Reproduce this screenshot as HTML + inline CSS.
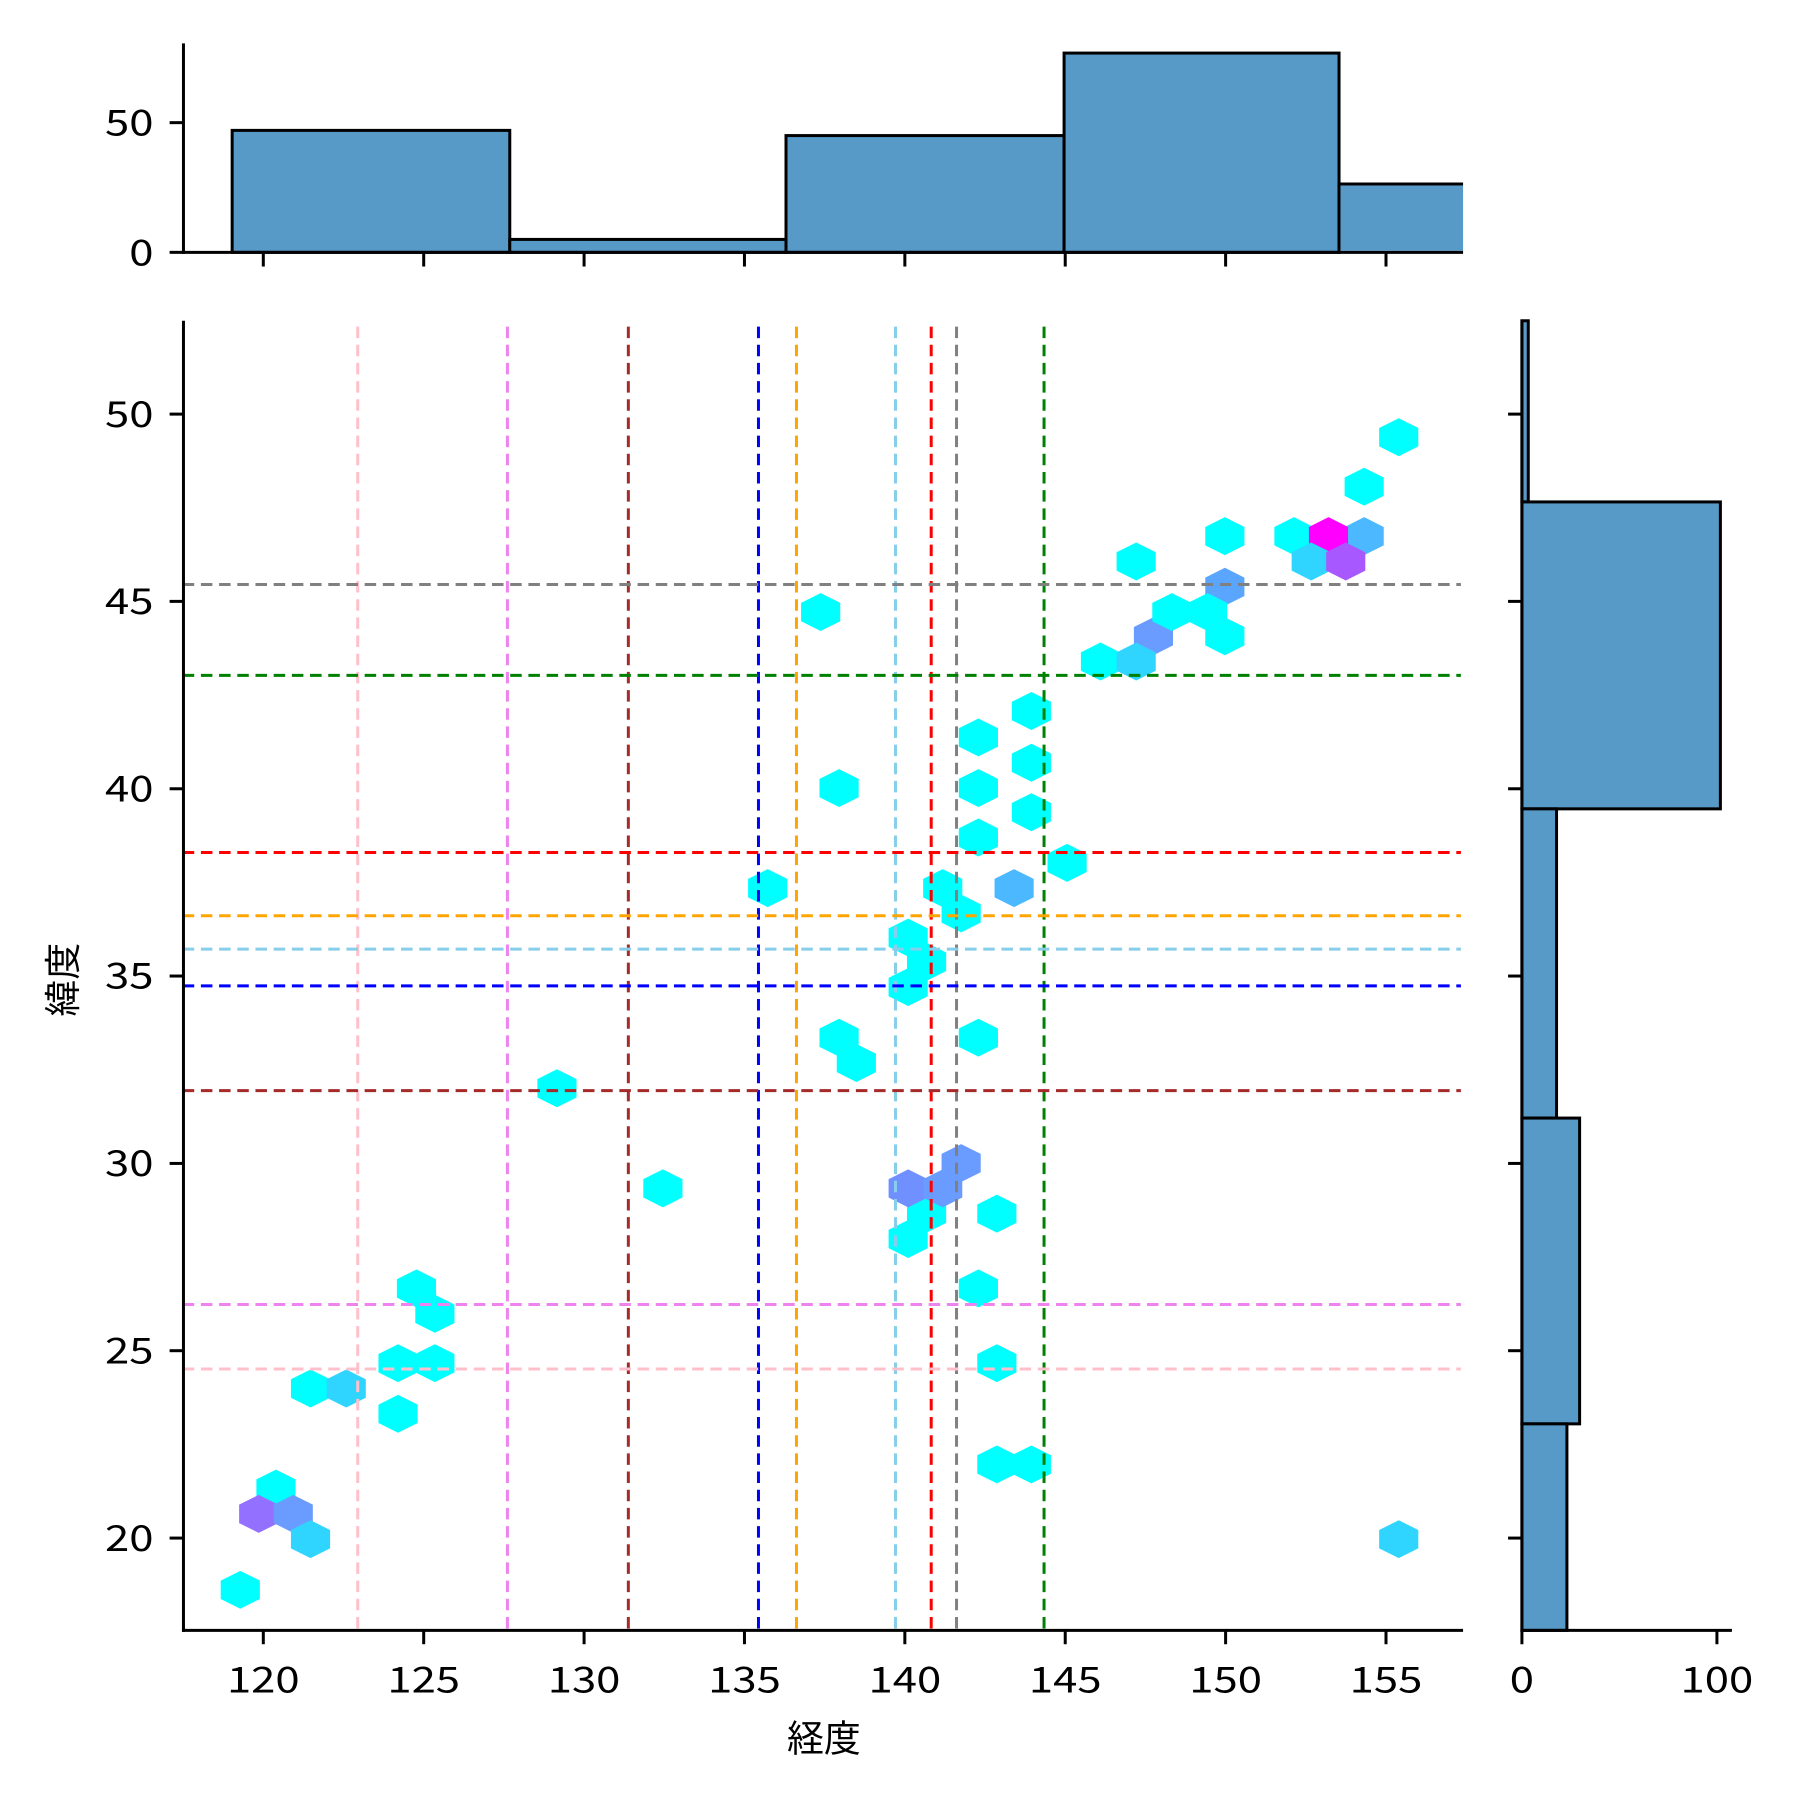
<!DOCTYPE html>
<html><head><meta charset="utf-8"><style>html,body{margin:0;padding:0;background:#fff}svg{display:block}</style></head>
<body>
<svg xmlns="http://www.w3.org/2000/svg" width="1800" height="1800" viewBox="0 0 1560 1560">
<rect width="1560" height="1560" fill="#fff"/>
<defs><clipPath id="cm"><rect x="159" y="278" width="1109" height="1135"/></clipPath></defs>

<!-- top histogram -->
<g stroke="#000" stroke-width="2.6" fill="#5799c7">
<rect x="201.2" y="113" width="240.6" height="105.7"/>
<rect x="441.8" y="207.5" width="239.4" height="11.2"/>
<rect x="681.2" y="117.5" width="241" height="101.2"/>
<rect x="922.2" y="46" width="238.3" height="172.7"/>
<path d="M1160.5 218.7 V159.5 H1268" fill="none"/>
<rect x="1161.8" y="160.8" width="106.2" height="56.6" stroke="none"/>
</g>
<g stroke="#000" stroke-width="2.6">
<line x1="159" y1="37.6" x2="159" y2="220"/>
<line x1="157.7" y1="218.7" x2="1268" y2="218.7"/>
<line x1="147" y1="218.7" x2="159" y2="218.7"/><line x1="147" y1="106.3" x2="159" y2="106.3"/>
<g>
<line x1="228.2" y1="218.7" x2="228.2" y2="231"/><line x1="367.2" y1="218.7" x2="367.2" y2="231"/>
<line x1="506.2" y1="218.7" x2="506.2" y2="231"/><line x1="645.2" y1="218.7" x2="645.2" y2="231"/>
<line x1="784.2" y1="218.7" x2="784.2" y2="231"/><line x1="923.2" y1="218.7" x2="923.2" y2="231"/>
<line x1="1062.2" y1="218.7" x2="1062.2" y2="231"/><line x1="1201.2" y1="218.7" x2="1201.2" y2="231"/>
</g></g>
<g font-family="'Noto Sans CJK JP','Liberation Sans',sans-serif" font-size="31" fill="#000" text-anchor="end">
<text x="133" y="117.5" textLength="42" lengthAdjust="spacingAndGlyphs">50</text>
<text x="133" y="230" textLength="21" lengthAdjust="spacingAndGlyphs">0</text>
</g>

<!-- right histogram -->
<g stroke="#000" stroke-width="2.6" fill="#5799c7">
<rect x="1319" y="278" width="5.5" height="157"/>
<rect x="1319" y="435" width="172" height="266"/>
<rect x="1319" y="701" width="30" height="268"/>
<rect x="1319" y="969" width="50" height="265"/>
<rect x="1319" y="1234" width="39" height="179"/>
</g>
<g stroke="#000" stroke-width="2.6">
<line x1="1319" y1="277" x2="1319" y2="1414.3"/>
<line x1="1317.7" y1="1413" x2="1501" y2="1413"/>
<line x1="1319" y1="1413" x2="1319" y2="1425"/><line x1="1488" y1="1413" x2="1488" y2="1425"/>
<line x1="1307" y1="1333" x2="1319" y2="1333"/><line x1="1307" y1="1170.6" x2="1319" y2="1170.6"/>
<line x1="1307" y1="1008.3" x2="1319" y2="1008.3"/><line x1="1307" y1="845.9" x2="1319" y2="845.9"/>
<line x1="1307" y1="683.6" x2="1319" y2="683.6"/><line x1="1307" y1="521.2" x2="1319" y2="521.2"/>
<line x1="1307" y1="358.9" x2="1319" y2="358.9"/>
</g>

<!-- main hexbin -->
<g clip-path="url(#cm)">
<g transform="matrix(0.998 0 0 0.9969 -1.34 -1.88)">
<g>
<polygon points="0,-16.5,17,-8,17,8,0,16.5,-17,8,-17,-8" transform="translate(1216,382)" fill="#00ffff"/>
<polygon points="0,-16.5,17,-8,17,8,0,16.5,-17,8,-17,-8" transform="translate(1186,425)" fill="#00ffff"/>
<polygon points="0,-16.5,17,-8,17,8,0,16.5,-17,8,-17,-8" transform="translate(1065,468)" fill="#00ffff"/>
<polygon points="0,-16.5,17,-8,17,8,0,16.5,-17,8,-17,-8" transform="translate(1125,468)" fill="#00ffff"/>
<polygon points="0,-16.5,17,-8,17,8,0,16.5,-17,8,-17,-8" transform="translate(1186,468)" fill="#4cb8ff"/>
<polygon points="0,-16.5,17,-8,17,8,0,16.5,-17,8,-17,-8" transform="translate(1155,468)" fill="#ff00ff"/>
<polygon points="0,-16.5,17,-8,17,8,0,16.5,-17,8,-17,-8" transform="translate(988,490)" fill="#00ffff"/>
<polygon points="0,-16.5,17,-8,17,8,0,16.5,-17,8,-17,-8" transform="translate(1140,490)" fill="#2fd5ff"/>
<polygon points="0,-16.5,17,-8,17,8,0,16.5,-17,8,-17,-8" transform="translate(1170,490)" fill="#a858ff"/>
<polygon points="0,-16.5,17,-8,17,8,0,16.5,-17,8,-17,-8" transform="translate(1065,512)" fill="#5aa6ff"/>
<polygon points="0,-16.5,17,-8,17,8,0,16.5,-17,8,-17,-8" transform="translate(714,534)" fill="#00ffff"/>
<polygon points="0,-16.5,17,-8,17,8,0,16.5,-17,8,-17,-8" transform="translate(1003,555)" fill="#6a9bff"/>
<polygon points="0,-16.5,17,-8,17,8,0,16.5,-17,8,-17,-8" transform="translate(1065,555)" fill="#00ffff"/>
<polygon points="0,-16.5,17,-8,17,8,0,16.5,-17,8,-17,-8" transform="translate(1019,534)" fill="#00ffff"/>
<polygon points="0,-16.5,17,-8,17,8,0,16.5,-17,8,-17,-8" transform="translate(1050,534)" fill="#00ffff"/>
<polygon points="0,-16.5,17,-8,17,8,0,16.5,-17,8,-17,-8" transform="translate(957,577)" fill="#00ffff"/>
<polygon points="0,-16.5,17,-8,17,8,0,16.5,-17,8,-17,-8" transform="translate(988,577)" fill="#2fd5ff"/>
<polygon points="0,-16.5,17,-8,17,8,0,16.5,-17,8,-17,-8" transform="translate(897,620)" fill="#00ffff"/>
<polygon points="0,-16.5,17,-8,17,8,0,16.5,-17,8,-17,-8" transform="translate(851,643)" fill="#00ffff"/>
<polygon points="0,-16.5,17,-8,17,8,0,16.5,-17,8,-17,-8" transform="translate(897,665)" fill="#00ffff"/>
<polygon points="0,-16.5,17,-8,17,8,0,16.5,-17,8,-17,-8" transform="translate(730,687)" fill="#00ffff"/>
<polygon points="0,-16.5,17,-8,17,8,0,16.5,-17,8,-17,-8" transform="translate(851,687)" fill="#00ffff"/>
<polygon points="0,-16.5,17,-8,17,8,0,16.5,-17,8,-17,-8" transform="translate(897,708)" fill="#00ffff"/>
<polygon points="0,-16.5,17,-8,17,8,0,16.5,-17,8,-17,-8" transform="translate(851,730)" fill="#00ffff"/>
<polygon points="0,-16.5,17,-8,17,8,0,16.5,-17,8,-17,-8" transform="translate(928,752)" fill="#00ffff"/>
<polygon points="0,-16.5,17,-8,17,8,0,16.5,-17,8,-17,-8" transform="translate(668,774)" fill="#00ffff"/>
<polygon points="0,-16.5,17,-8,17,8,0,16.5,-17,8,-17,-8" transform="translate(820,774)" fill="#00ffff"/>
<polygon points="0,-16.5,17,-8,17,8,0,16.5,-17,8,-17,-8" transform="translate(882,774)" fill="#4cb8ff"/>
<polygon points="0,-16.5,17,-8,17,8,0,16.5,-17,8,-17,-8" transform="translate(836,796)" fill="#00ffff"/>
<polygon points="0,-16.5,17,-8,17,8,0,16.5,-17,8,-17,-8" transform="translate(790,817)" fill="#00ffff"/>
<polygon points="0,-16.5,17,-8,17,8,0,16.5,-17,8,-17,-8" transform="translate(806,838)" fill="#00ffff"/>
<polygon points="0,-16.5,17,-8,17,8,0,16.5,-17,8,-17,-8" transform="translate(790,860)" fill="#00ffff"/>
<polygon points="0,-16.5,17,-8,17,8,0,16.5,-17,8,-17,-8" transform="translate(730,904)" fill="#00ffff"/>
<polygon points="0,-16.5,17,-8,17,8,0,16.5,-17,8,-17,-8" transform="translate(851,904)" fill="#00ffff"/>
<polygon points="0,-16.5,17,-8,17,8,0,16.5,-17,8,-17,-8" transform="translate(745,926)" fill="#00ffff"/>
<polygon points="0,-16.5,17,-8,17,8,0,16.5,-17,8,-17,-8" transform="translate(485,948)" fill="#00ffff"/>
<polygon points="0,-16.5,17,-8,17,8,0,16.5,-17,8,-17,-8" transform="translate(836,1013)" fill="#6a9bff"/>
<polygon points="0,-16.5,17,-8,17,8,0,16.5,-17,8,-17,-8" transform="translate(577,1035)" fill="#00ffff"/>
<polygon points="0,-16.5,17,-8,17,8,0,16.5,-17,8,-17,-8" transform="translate(806,1057)" fill="#00ffff"/>
<polygon points="0,-16.5,17,-8,17,8,0,16.5,-17,8,-17,-8" transform="translate(867,1057)" fill="#00ffff"/>
<polygon points="0,-16.5,17,-8,17,8,0,16.5,-17,8,-17,-8" transform="translate(790,1035)" fill="#7090ff"/>
<polygon points="0,-16.5,17,-8,17,8,0,16.5,-17,8,-17,-8" transform="translate(820,1035)" fill="#6a9bff"/>
<polygon points="0,-16.5,17,-8,17,8,0,16.5,-17,8,-17,-8" transform="translate(790,1079)" fill="#00ffff"/>
<polygon points="0,-16.5,17,-8,17,8,0,16.5,-17,8,-17,-8" transform="translate(363,1122)" fill="#00ffff"/>
<polygon points="0,-16.5,17,-8,17,8,0,16.5,-17,8,-17,-8" transform="translate(851,1122)" fill="#00ffff"/>
<polygon points="0,-16.5,17,-8,17,8,0,16.5,-17,8,-17,-8" transform="translate(379,1144)" fill="#00ffff"/>
<polygon points="0,-16.5,17,-8,17,8,0,16.5,-17,8,-17,-8" transform="translate(347,1187)" fill="#00ffff"/>
<polygon points="0,-16.5,17,-8,17,8,0,16.5,-17,8,-17,-8" transform="translate(379,1187)" fill="#00ffff"/>
<polygon points="0,-16.5,17,-8,17,8,0,16.5,-17,8,-17,-8" transform="translate(867,1187)" fill="#00ffff"/>
<polygon points="0,-16.5,17,-8,17,8,0,16.5,-17,8,-17,-8" transform="translate(271,1209)" fill="#00ffff"/>
<polygon points="0,-16.5,17,-8,17,8,0,16.5,-17,8,-17,-8" transform="translate(302,1209)" fill="#2fd5ff"/>
<polygon points="0,-16.5,17,-8,17,8,0,16.5,-17,8,-17,-8" transform="translate(347,1231)" fill="#00ffff"/>
<polygon points="0,-16.5,17,-8,17,8,0,16.5,-17,8,-17,-8" transform="translate(867,1275)" fill="#00ffff"/>
<polygon points="0,-16.5,17,-8,17,8,0,16.5,-17,8,-17,-8" transform="translate(897,1275)" fill="#00ffff"/>
<polygon points="0,-16.5,17,-8,17,8,0,16.5,-17,8,-17,-8" transform="translate(241,1296)" fill="#00ffff"/>
<polygon points="0,-16.5,17,-8,17,8,0,16.5,-17,8,-17,-8" transform="translate(226,1318)" fill="#9370ff"/>
<polygon points="0,-16.5,17,-8,17,8,0,16.5,-17,8,-17,-8" transform="translate(256,1318)" fill="#6a9bff"/>
<polygon points="0,-16.5,17,-8,17,8,0,16.5,-17,8,-17,-8" transform="translate(271,1340)" fill="#2fd5ff"/>
<polygon points="0,-16.5,17,-8,17,8,0,16.5,-17,8,-17,-8" transform="translate(1216,1340)" fill="#2fd5ff"/>
<polygon points="0,-16.5,17,-8,17,8,0,16.5,-17,8,-17,-8" transform="translate(210,1384)" fill="#00ffff"/>
</g>
<g stroke-width="2.6" stroke-dasharray="10,5.8" fill="none">
<line x1="312" y1="270" x2="312" y2="1430" stroke="#ffc0cb"/>
<line x1="442" y1="270" x2="442" y2="1430" stroke="#ee82ee"/>
<line x1="547" y1="270" x2="547" y2="1430" stroke="#a52a2a"/>
<line x1="660" y1="270" x2="660" y2="1430" stroke="#0000ff"/>
<line x1="693" y1="270" x2="693" y2="1430" stroke="#ffa500"/>
<line x1="779" y1="270" x2="779" y2="1430" stroke="#87ceeb"/>
<line x1="810" y1="270" x2="810" y2="1430" stroke="#ff0000"/>
<line x1="832" y1="270" x2="832" y2="1430" stroke="#808080"/>
<line x1="908" y1="270" x2="908" y2="1430" stroke="#008000"/>
<line x1="160" y1="510" x2="1270" y2="510" stroke="#808080"/>
<line x1="160" y1="589" x2="1270" y2="589" stroke="#008000"/>
<line x1="160" y1="743" x2="1270" y2="743" stroke="#ff0000"/>
<line x1="160" y1="798" x2="1270" y2="798" stroke="#ffa500"/>
<line x1="160" y1="827" x2="1270" y2="827" stroke="#87ceeb"/>
<line x1="160" y1="859" x2="1270" y2="859" stroke="#0000ff"/>
<line x1="160" y1="950" x2="1270" y2="950" stroke="#a52a2a"/>
<line x1="160" y1="1136" x2="1270" y2="1136" stroke="#ee82ee"/>
<line x1="160" y1="1192" x2="1270" y2="1192" stroke="#ffc0cb"/>
</g>
</g>
</g>

<!-- main axes -->
<g stroke="#000" stroke-width="2.6">
<line x1="159" y1="278" x2="159" y2="1414.3"/>
<line x1="157.7" y1="1413" x2="1268" y2="1413"/>
<line x1="228.2" y1="1413" x2="228.2" y2="1425"/><line x1="367.2" y1="1413" x2="367.2" y2="1425"/>
<line x1="506.2" y1="1413" x2="506.2" y2="1425"/><line x1="645.2" y1="1413" x2="645.2" y2="1425"/>
<line x1="784.2" y1="1413" x2="784.2" y2="1425"/><line x1="923.2" y1="1413" x2="923.2" y2="1425"/>
<line x1="1062.2" y1="1413" x2="1062.2" y2="1425"/><line x1="1201.2" y1="1413" x2="1201.2" y2="1425"/>
<line x1="147" y1="1333" x2="159" y2="1333"/><line x1="147" y1="1170.6" x2="159" y2="1170.6"/>
<line x1="147" y1="1008.3" x2="159" y2="1008.3"/><line x1="147" y1="845.9" x2="159" y2="845.9"/>
<line x1="147" y1="683.6" x2="159" y2="683.6"/><line x1="147" y1="521.2" x2="159" y2="521.2"/>
<line x1="147" y1="358.9" x2="159" y2="358.9"/>
</g>
<g font-family="'Noto Sans CJK JP','Liberation Sans',sans-serif" font-size="31" fill="#000">
<g text-anchor="middle">
<text x="228.2" y="1467" textLength="63" lengthAdjust="spacingAndGlyphs">120</text>
<text x="367.2" y="1467" textLength="63" lengthAdjust="spacingAndGlyphs">125</text>
<text x="506.2" y="1467" textLength="63" lengthAdjust="spacingAndGlyphs">130</text>
<text x="645.2" y="1467" textLength="63" lengthAdjust="spacingAndGlyphs">135</text>
<text x="784.2" y="1467" textLength="63" lengthAdjust="spacingAndGlyphs">140</text>
<text x="923.2" y="1467" textLength="63" lengthAdjust="spacingAndGlyphs">145</text>
<text x="1062.2" y="1467" textLength="63" lengthAdjust="spacingAndGlyphs">150</text>
<text x="1201.2" y="1467" textLength="63" lengthAdjust="spacingAndGlyphs">155</text>
<text x="1319" y="1467" textLength="21" lengthAdjust="spacingAndGlyphs">0</text>
<text x="1488" y="1467" textLength="63" lengthAdjust="spacingAndGlyphs">100</text>
<text x="714" y="1518" font-size="32">経度</text>
</g>
<g text-anchor="end">
<text x="133" y="1344" textLength="42" lengthAdjust="spacingAndGlyphs">20</text>
<text x="133" y="1181.6" textLength="42" lengthAdjust="spacingAndGlyphs">25</text>
<text x="133" y="1019.3" textLength="42" lengthAdjust="spacingAndGlyphs">30</text>
<text x="133" y="856.9" textLength="42" lengthAdjust="spacingAndGlyphs">35</text>
<text x="133" y="694.6" textLength="42" lengthAdjust="spacingAndGlyphs">40</text>
<text x="133" y="532.2" textLength="42" lengthAdjust="spacingAndGlyphs">45</text>
<text x="133" y="369.9" textLength="42" lengthAdjust="spacingAndGlyphs">50</text>
</g>
<text transform="translate(66,849) rotate(-90)" text-anchor="middle" font-size="32">緯度</text>
</g>
</svg>
</body></html>
